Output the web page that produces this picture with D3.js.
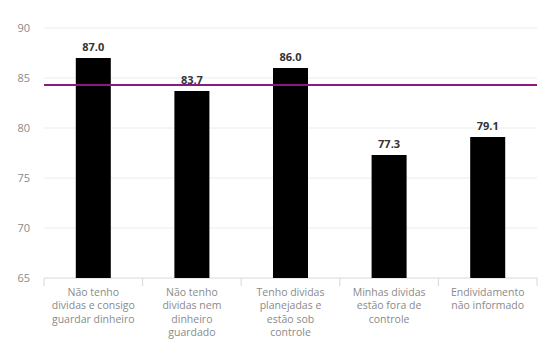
<!DOCTYPE html>
<html><head><meta charset="utf-8">
<script src="https://cdn.jsdelivr.net/npm/d3@7"></script>
<style>body{margin:0;background:#fff}svg{display:block}</style>
</head><body>
<svg id="c" width="558" height="356"></svg>
<script>
const categories = ["Não tenho dividas e consigo guardar dinheiro","Não tenho dividas nem dinheiro guardado","Tenho dividas planejadas e estão sob controle","Minhas dividas estão fora de controle","Endividamento não informado"];
const categoryLines = [
  ["Não tenho","dividas e consigo","guardar dinheiro"],
  ["Não tenho","dividas nem","dinheiro","guardado"],
  ["Tenho dividas","planejadas e","estão sob","controle"],
  ["Minhas dividas","estão fora de","controle"],
  ["Endividamento","não informado"]
];
const values = [87.0, 83.7, 86.0, 77.3, 79.1];
const average = [84.3];
const yTicks = [65, 70, 75, 80, 85, 90];

const svg = d3.select("#c");
const m = {l:44, r:21, t:28, b:78};
const W = 558, H = 356;
const x = d3.scaleBand().domain(categories).range([m.l, W - m.r]).paddingInner(0.645).paddingOuter(0.3225);
const y = d3.scaleLinear().domain([65, 90]).range([H - m.b, m.t]);
const font = "'Open Sans', sans-serif";

// grid
svg.append("g").selectAll("line").data(yTicks.slice(1)).join("line")
  .attr("x1", m.l).attr("x2", W - m.r)
  .attr("y1", d => y(d)).attr("y2", d => y(d))
  .attr("stroke", "#ececec").attr("stroke-width", 1);

// y labels
svg.append("g").selectAll("text").data(yTicks).join("text")
  .attr("x", 30).attr("y", d => y(d)).attr("dy", "0.35em")
  .attr("text-anchor", "end").attr("font-family", font).attr("font-size", 11)
  .attr("fill", "#8a8a8a").text(d => d);

// x axis line and ticks
const xb = x.step();
svg.append("line").attr("x1", m.l).attr("x2", W - m.r).attr("y1", y(65)).attr("y2", y(65))
  .attr("stroke", "#d8d8d8");
const bounds = d3.range(categories.length + 1).map(i => m.l + i * xb);
svg.append("g").selectAll("line").data(bounds).join("line")
  .attr("x1", d => d).attr("x2", d => d).attr("y1", y(65)).attr("y2", y(65) + 8)
  .attr("stroke", "#d8d8d8");

// bars
svg.append("g").selectAll("rect").data(values).join("rect")
  .attr("x", (d, i) => x(categories[i])).attr("width", x.bandwidth())
  .attr("y", d => y(d)).attr("height", d => y(65) - y(d))
  .attr("fill", "#000");

// average line
svg.append("line").attr("x1", m.l).attr("x2", W - m.r)
  .attr("y1", y(average[0])).attr("y2", y(average[0]))
  .attr("stroke", "#8a1a7e").attr("stroke-width", 2);

// value labels
svg.append("g").selectAll("text").data(values).join("text")
  .attr("x", (d, i) => x(categories[i]) + x.bandwidth() / 2)
  .attr("y", d => y(d) - 7)
  .attr("text-anchor", "middle").attr("font-family", font).attr("font-size", 11)
  .attr("font-weight", "bold").attr("fill", "#333").text(d => d.toFixed(1));

// category labels
const cl = svg.append("g").selectAll("text").data(categoryLines).join("text")
  .attr("text-anchor", "middle").attr("font-family", font).attr("font-size", 10.5)
  .attr("fill", "#8a8a8a");
cl.each(function(lines, i) {
  const cx = x(categories[i]) + x.bandwidth() / 2;
  d3.select(this).selectAll("tspan").data(lines).join("tspan")
    .attr("x", cx).attr("y", (d, j) => y(65) + 18 + j * 13.3).text(d => d);
});
</script>
</body></html>
